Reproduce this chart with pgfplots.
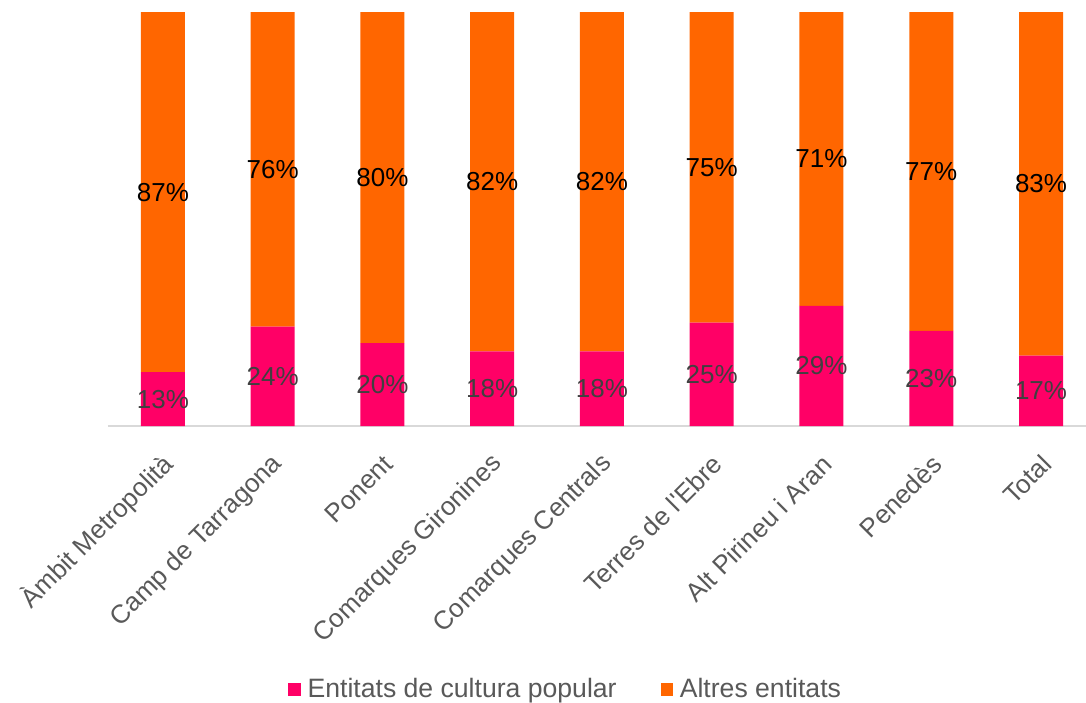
\documentclass[border=0pt]{standalone}
\usepackage{pgfplots}
\pgfplotsset{compat=1.18}
\usepackage{fontspec}
\setmainfont{Liberation Sans}[Ligatures=TeXOff]
\definecolor{pinkc}{HTML}{FF0066}
\definecolor{orangec}{HTML}{FF6600}
\definecolor{txtgrey}{HTML}{595959}
\definecolor{lblgrey}{HTML}{404040}
\definecolor{axgrey}{HTML}{D9D9D9}
\begin{document}
\begin{tikzpicture}
\path[use as bounding box] (0,0) rectangle (543pt,-351pt);
\begin{axis}[
  at={(54pt,-213pt)}, anchor=south west,
  width=489pt, height=207pt, scale only axis,
  ybar stacked, bar width=22pt,
  xmin=-0.5, xmax=8.41, ymin=0, ymax=100,
  hide y axis,
  axis x line*=bottom,
  x axis line style={-, draw=axgrey, line width=0.8pt},
  xtick={0,1,2,3,4,5,6,7,8},
  xticklabels={Àmbit Metropolità, Camp de Tarragona, Ponent, Comarques Gironines, Comarques Centrals, Terres de l'Ebre, Alt Pirineu i Aran, Penedès, Total},
  xtick style={draw=none},
  xticklabel style={rotate=45, anchor=east, xshift=-6.5pt, yshift=-14pt, font=\fontsize{13}{15}\selectfont, text=txtgrey},
  point meta=rawy,
  nodes near coords={\pgfmathprintnumber[assume math mode=true, fixed, precision=0]{\pgfplotspointmeta}\%},
  every node near coord/.append style={anchor=center, font=\fontsize{13}{15}\selectfont},
  legend style={at={(0.469,-0.636)}, anchor=center, draw=none, legend columns=2,
    font=\fontsize{13.3}{15}\selectfont, text=txtgrey,
    /tikz/every even column/.append style={column sep=20pt}},
  legend cell align=left,
]
\addplot[fill=pinkc, draw=none, every node near coord/.append style={text=lblgrey},
  legend image code/.code={\fill[pinkc] (0pt,-3.1pt) rectangle (6.2pt,3.1pt); \path (7.6pt,0pt);}]
  coordinates {(0,13) (1,24) (2,20) (3,18) (4,18) (5,25) (6,29) (7,23) (8,17)};
\addlegendentry{Entitats de cultura popular}
\addplot[fill=orangec, draw=none, every node near coord/.append style={text=black},
  legend image code/.code={\fill[orangec] (0pt,-3.1pt) rectangle (6.2pt,3.1pt); \path (7.6pt,0pt);}]
  coordinates {(0,87) (1,76) (2,80) (3,82) (4,82) (5,75) (6,71) (7,77) (8,83)};
\addlegendentry{Altres entitats}
\end{axis}
\end{tikzpicture}
\end{document}
